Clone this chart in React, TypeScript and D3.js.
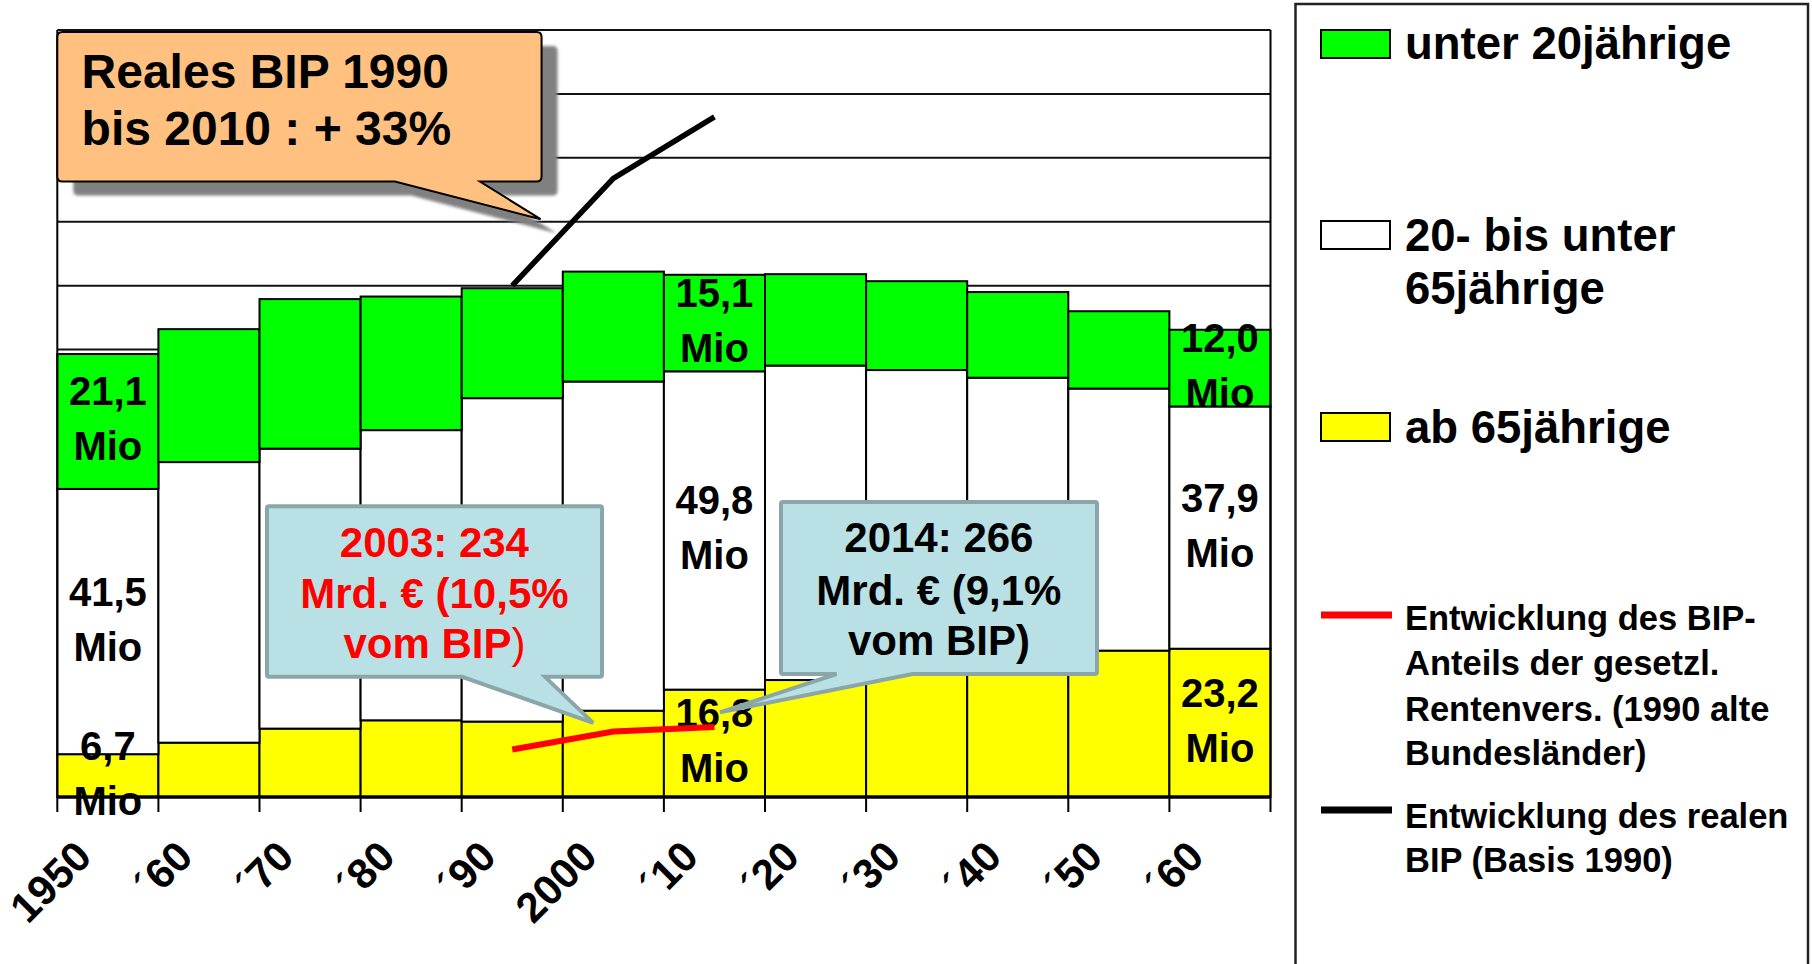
import React from "react";
import * as d3 from "d3";

// decades on the x axis (1950 ... 2060)
const decades = ["1950", "´60", "´70", "´80", "´90", "2000", "´10", "´20", "´30", "´40", "´50", "´60"];

// population in Mio per age group
const under20 = [21.1, 20.8, 23.4, 20.9, 17.2, 17.2, 15.1, 14.3, 13.9, 13.4, 12.1, 12.0];
const age20to65 = [41.5, 43.9, 43.8, 45.4, 50.6, 51.5, 49.8, 49.2, 45.3, 42.6, 41.0, 37.9];
const over65 = [6.7, 8.5, 10.7, 12.0, 11.8, 13.5, 16.8, 18.3, 21.5, 23.0, 22.9, 23.2];
const labelledBars = [0, 6, 11];

// the two short lines (index scale, 1990 = 100)
const lineDecades = [4, 5, 6];
const realGdp = [100, 121, 133];
const pensionShare = [9.3, 12.8, 13.7];

const legendLabels = [
  ["unter 20jährige"],
  ["20- bis unter", "65jährige"],
  ["ab 65jährige"],
  ["Entwicklung des BIP-", "Anteils der gesetzl.", "Rentenvers. (1990 alte", "Bundesländer)"],
  ["Entwicklung des realen", "BIP (Basis 1990)"],
];

const gdpNoteText = ["Reales BIP 1990", "bis 2010 : + 33%"];
const note2003 = ["2003: 234", "Mrd. € (10,5%", "vom BIP"];
const note2014 = ["2014: 266", "Mrd. € (9,1%", "vom BIP)"];

const FONT = "'Liberation Sans', Arial, Helvetica, sans-serif";
const keys = ["over65", "mid", "under20"];
const colors: Record<string, string> = { over65: "#FFFF00", mid: "#FFFFFF", under20: "#00FF00" };

export default function App() {
  const W = 1812, H = 964;
  const x = d3.scaleBand<number>().domain(d3.range(decades.length)).range([57.3, 1270.5]).padding(0);
  const y = d3.scaleLinear().domain([0, 120]).range([797, 30]);
  const y2 = d3.scaleLinear().domain([0, 150]).range([797, 30]);
  const x0 = x.range()[0];
  const bw = x.step();
  const bx = (b: number) => x0 + b * bw;
  const cx = (i: number) => (x(i) as number) + bw / 2;

  const table = decades.map((d, i) => ({ i, over65: over65[i], mid: age20to65[i], under20: under20[i] }));
  const series = d3.stack<any>().keys(keys)(table);

  const fmt = (v: number) => v.toFixed(1).replace(".", ",");

  const line = d3.line<number>().x((d, k) => cx(lineDecades[k])).y((d) => y2(d));

  // callout outline with a pointer on the bottom edge
  const callout = (c: any, r: number) => {
    const l = bx(c.x0), rt = bx(c.x1), t = y(c.top), b = y(c.bottom);
    const p0 = bx(c.base0), p1 = bx(c.base1), tx = bx(c.tipB), ty = y(c.tipV);
    return `M${l + r},${t}H${rt - r}Q${rt},${t} ${rt},${t + r}V${b - r}Q${rt},${b} ${rt - r},${b}` +
      `H${p1}L${tx},${ty}L${p0},${b}H${l + r}Q${l},${b} ${l},${b - r}V${t + r}Q${l},${t} ${l + r},${t}Z`;
  };

  const gdpNote = { x0: 0.0, x1: 4.79, top: 119.7, bottom: 96.3, base0: 3.34, base1: 4.18, tipB: 4.78, tipV: 90.4 };
  const box2003 = { x0: 2.074, x1: 5.388, top: 45.5, bottom: 18.8, base0: 4.003, base1: 4.824, tipB: 5.3, tipV: 11.6 };
  const box2014 = { x0: 7.158, x1: 10.284, top: 46.15, bottom: 19.24, base0: 7.708, base1: 8.459, tipB: 6.555, tipV: 13.25 };

  const left = x0, right = x.range()[1];

  return (
    <div style={{ position: "absolute", left: 0, top: 0 }}>
      <svg width={W} height={H} style={{ display: "block", background: "#fff" }} fontFamily={FONT}>
        <defs>
          <filter id="soft" x="-10%" y="-10%" width="120%" height="130%">
            <feGaussianBlur stdDeviation="1.5" />
          </filter>
        </defs>

        {/* gridlines */}
        {d3.range(10, 121, 10).map((v) => (
          <line key={v} x1={left} x2={right} y1={y(v)} y2={y(v)} stroke="#111" strokeWidth={2} />
        ))}

        {/* stacked bars */}
        {series.map((s) => (
          <g key={s.key} fill={colors[s.key]} stroke="#000" strokeWidth={2}>
            {s.map((d, i) => (
              <rect key={i} x={x(i)} width={bw} y={y(d[1])} height={y(d[0]) - y(d[1])} />
            ))}
          </g>
        ))}

        {/* frame */}
        <line x1={left} x2={left} y1={y(120)} y2={y(0)} stroke="#000" strokeWidth={2} />
        <line x1={right} x2={right} y1={y(120)} y2={y(0)} stroke="#000" strokeWidth={2} />

        {/* x axis */}
        <line x1={left} x2={right} y1={y(0)} y2={y(0)} stroke="#000" strokeWidth={3.5} />
        {d3.range(decades.length + 1).map((i) => (
          <line key={i} x1={bx(i)} x2={bx(i)} y1={y(0)} y2={y(0) + 15} stroke="#000" strokeWidth={2} />
        ))}
        {decades.map((d, i) => (
          <text key={i} transform={`translate(${cx(i) - 14},${y(0) + 62}) rotate(-45)`} textAnchor="end"
            fontSize={42} fontWeight="bold" fill="#000">{d}</text>
        ))}

        {/* value labels */}
        {labelledBars.map((i) =>
          series.map((s) => {
            const d = s[i];
            const mid = (y(d[0]) + y(d[1])) / 2;
            return (
              <text key={s.key + i} x={cx(i)} textAnchor="middle" fontSize={40} fontWeight="bold" fill="#000">
                <tspan x={cx(i)} y={mid - 16}>{fmt(d[1] - d[0])}</tspan>
                <tspan x={cx(i)} y={mid + 39}>Mio</tspan>
              </text>
            );
          })
        )}

        {/* lines */}
        <path d={line(realGdp) as string} fill="none" stroke="#000" strokeWidth={5.5} />
        <path d={line(pensionShare) as string} fill="none" stroke="#FF0000" strokeWidth={6} />

        {/* orange note */}
        <g transform="translate(16,14)" filter="url(#soft)">
          <path d={callout(gdpNote, 5)} fill="#808080" />
        </g>
        <path d={callout(gdpNote, 5)} fill="#FFC080" stroke="#000" strokeWidth={2} />
        {gdpNoteText.map((t, k) => (
          <text key={k} x={bx(0.24)} y={y([110.9, 102.0][k])} fontSize={48} fontWeight="bold" fill="#000">{t}</text>
        ))}

        {/* blue notes */}
        <path d={callout(box2003, 2)} fill="#B9E0E4" stroke="#8AA6A9" strokeWidth={4} />
        {note2003.map((t, k) => (
          <text key={k} x={bx(3.73)} y={y([37.6, 29.5, 21.7][k])} textAnchor="middle" fontSize={42}
            fontWeight="bold" fill="#FF0000">
            {t}
            {k === 2 && <tspan fontWeight="normal">)</tspan>}
          </text>
        ))}
        <path d={callout(box2014, 2)} fill="#B9E0E4" stroke="#8AA6A9" strokeWidth={4} />
        {note2014.map((t, k) => (
          <text key={k} x={bx(8.72)} y={y([38.4, 30.0, 22.2][k])} textAnchor="middle" fontSize={42}
            fontWeight="bold" fill="#000">{t}</text>
        ))}

        {/* legend */}
        <rect x={1295.5} y={4} width={512.5} height={1000} fill="#fff" stroke="#222" strokeWidth={2.5} />
        {[
          { fill: colors.under20, sy: 30, base: [59] },
          { fill: colors.mid, sy: 221, base: [251, 304] },
          { fill: colors.over65, sy: 413, base: [443] },
        ].map((it, k) => (
          <g key={k}>
            <rect x={1321} y={it.sy} width={69} height={28} fill={it.fill} stroke="#000" strokeWidth={2} />
            <text fontSize={45.5} fontWeight="bold" fill="#000">
              {legendLabels[k].map((t, j) => (
                <tspan key={j} x={1405} y={it.base[j]}>{t}</tspan>
              ))}
            </text>
          </g>
        ))}
        {[
          { stroke: "#FF0000", ly: 615, base: [630, 675, 721, 765] },
          { stroke: "#000", ly: 810, base: [828, 872] },
        ].map((it, k) => (
          <g key={k}>
            <line x1={1321} x2={1392} y1={it.ly} y2={it.ly} stroke={it.stroke} strokeWidth={7} />
            <text fontSize={34.5} fontWeight="bold" fill="#000">
              {legendLabels[k + 3].map((t, j) => (
                <tspan key={j} x={1405} y={it.base[j]}>{t}</tspan>
              ))}
            </text>
          </g>
        ))}
      </svg>
    </div>
  );
}
